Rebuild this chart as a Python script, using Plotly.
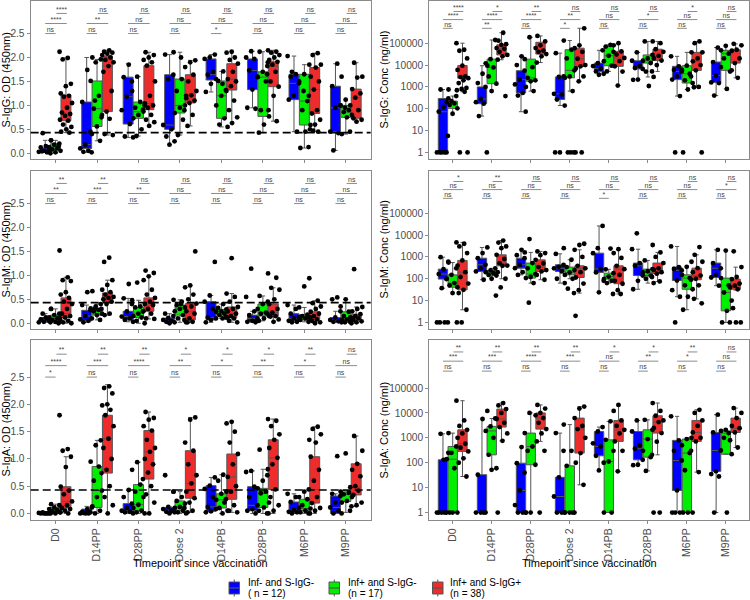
import plotly.graph_objects as go

TIMEPOINTS = ["D0", "D14PP", "D28PP", "Dose 2", "D14PB", "D28PB", "M6PP", "M9PP"]
GROUP_LABELS = ["Inf- and S-IgG-", "Inf+ and S-IgG-", "Inf+ and S-IgG+"]
GROUP_COUNTS = ["( n = 12)", "(n = 17)", "(n = 38)"]
GROUP_COLORS = ["#0000FF", "#00EE00", "#EE2C2C"]
OD_CUTOFF = 0.43

# Box summaries per timepoint: (lower whisker, Q1, median, Q3, upper whisker)
# ---------- S-IgG OD ----------
IGG_OD_NEG_BOX = [(0.02, 0.04, 0.07, 0.11, 0.27), (0.02, 0.10, 0.18, 1.07, 2.0), (0.33, 0.61, 1.18, 1.59, 1.87),
                  (0.18, 0.50, 0.59, 1.64, 2.06), (1.28, 1.53, 1.64, 1.97, 2.06), (0.95, 1.33, 1.73, 1.97, 2.13),
                  (0.45, 1.12, 1.46, 1.65, 2.03), (0.06, 0.45, 0.95, 1.40, 1.87)]
IGG_OD_POSN_BOX = [(0.0, 0.08, 0.13, 0.20, 0.27), (0.26, 0.56, 0.93, 1.51, 1.96), (0.36, 0.73, 0.87, 1.07, 1.6),
                   (0.38, 0.84, 1.0, 1.55, 2.11), (0.55, 0.73, 1.2, 1.51, 1.71), (0.43, 0.77, 1.59, 1.70, 2.12),
                   (0.11, 0.59, 1.09, 1.65, 1.85), (0.40, 0.75, 0.86, 1.0, 1.12)]
IGG_OD_POSP_BOX = [(0.43, 0.68, 0.82, 1.21, 1.99), (0.38, 0.87, 1.82, 2.03, 2.15), (0.57, 0.91, 1.04, 1.83, 2.11),
                   (0.57, 1.05, 1.21, 1.64, 1.94), (0.63, 1.32, 1.55, 1.87, 2.12), (0.67, 1.39, 1.82, 1.91, 2.15),
                   (0.45, 0.83, 1.33, 1.79, 2.09), (0.66, 0.73, 1.16, 1.34, 1.89)]
IGG_OD_NEG_PTS = [[0.42, 0.27, 0.15, 0.12, 0.08, 0.05, 0.03, 0.02, 0.04],
                  [2.0, 1.74, 1.07, 0.45, 0.18, 0.1, 0.05, 0.03, 0.02],
                  [1.85, 1.59, 1.5, 1.18, 0.9, 0.61, 0.35, 0.33],
                  [2.06, 1.64, 1.55, 0.59, 0.5, 0.35, 0.25, 0.18],
                  [2.06, 2.0, 1.97, 1.7, 1.64, 1.55, 1.45, 1.28],
                  [2.13, 2.0, 1.97, 1.73, 1.6, 1.33, 0.95, 0.93],
                  [2.03, 1.65, 1.6, 1.46, 1.2, 1.12, 0.45, 1.7],
                  [1.87, 1.4, 1.0, 0.95, 0.45, 0.42, 0.06, 1.6]]
IGG_OD_POSN_PTS = [[0.27, 0.2, 0.18, 0.13, 0.1, 0.08, 0.05, 0.02, 0.0, 0.15],
                   [1.96, 1.9, 1.51, 1.2, 0.93, 0.8, 0.56, 0.4, 0.26, 1.1],
                   [1.6, 1.3, 1.07, 0.95, 0.87, 0.8, 0.73, 0.5, 0.36, 1.0],
                   [2.11, 1.55, 1.3, 1.0, 0.95, 0.84, 0.7, 0.38, 1.2, 2.0],
                   [1.71, 1.51, 1.3, 1.2, 1.0, 0.73, 0.6, 0.55, 1.45],
                   [2.12, 1.9, 1.7, 1.59, 1.5, 0.9, 0.77, 0.6, 0.43, 1.65],
                   [1.85, 1.65, 1.5, 1.09, 0.9, 0.59, 0.45, 0.11, 0.13, 1.3],
                   [1.12, 1.0, 0.9, 0.86, 0.8, 0.75, 0.4, 0.45, 0.95]]
IGG_OD_POSP_PTS = [[2.12, 1.99, 1.96, 1.45, 1.4, 1.25, 1.2, 1.18, 1.05, 0.95, 0.85, 0.82, 0.78, 0.7, 0.68, 0.6, 0.55, 0.5, 0.45, 0.43],
                   [2.15, 2.12, 2.1, 2.08, 2.05, 2.0, 1.95, 1.9, 1.82, 1.7, 1.3, 0.87, 0.75, 0.72, 0.4, 0.38],
                   [2.11, 2.05, 2.0, 1.95, 1.9, 1.83, 1.5, 1.2, 1.04, 1.0, 0.95, 0.91, 0.8, 0.7, 0.65, 0.57],
                   [1.94, 1.9, 1.8, 1.64, 1.5, 1.3, 1.21, 1.15, 1.1, 1.05, 0.9, 0.8, 0.57],
                   [2.12, 2.1, 2.0, 1.95, 1.87, 1.7, 1.55, 1.5, 1.4, 1.32, 1.1, 0.9, 0.75, 0.63],
                   [2.15, 2.12, 2.1, 2.05, 2.0, 1.95, 1.91, 1.85, 1.82, 1.7, 1.5, 1.39, 1.2, 0.9, 0.67],
                   [2.09, 2.05, 1.85, 1.79, 1.6, 1.5, 1.33, 1.2, 0.9, 0.83, 0.7, 0.6, 0.5, 0.45, 0.47],
                   [1.89, 1.6, 1.58, 1.34, 1.25, 1.16, 1.0, 0.9, 0.73, 0.7, 0.66]]
IGG_OD_SIG_NEG_POSN = ["ns", "ns", "ns", "ns", "*", "ns", "ns", "ns"]
IGG_OD_SIG_NEG_POSP = ["****", "**", "ns", "ns", "ns", "ns", "ns", "ns"]
IGG_OD_SIG_POSN_POSP = ["****", "ns", "ns", "ns", "ns", "ns", "ns", "ns"]

# ---------- S-IgM OD ----------
IGM_OD_NEG_BOX = [(0.02, 0.03, 0.07, 0.12, 0.2), (0.02, 0.05, 0.15, 0.27, 0.38), (0.03, 0.07, 0.14, 0.25, 0.52),
                  (0.0, 0.03, 0.07, 0.11, 0.2), (0.02, 0.07, 0.12, 0.45, 0.58), (0.02, 0.03, 0.1, 0.17, 0.25),
                  (0.02, 0.05, 0.1, 0.2, 0.38), (0.02, 0.03, 0.07, 0.12, 0.25)]
IGM_OD_POSN_BOX = [(0.0, 0.03, 0.1, 0.17, 0.3), (0.07, 0.17, 0.25, 0.31, 0.4), (0.0, 0.12, 0.21, 0.33, 0.48),
                   (0.02, 0.17, 0.3, 0.38, 0.49), (0.1, 0.17, 0.24, 0.29, 0.4), (0.05, 0.15, 0.22, 0.4, 0.57),
                   (0.03, 0.07, 0.12, 0.18, 0.33), (0.02, 0.07, 0.1, 0.24, 0.5)]
IGM_OD_POSP_BOX = [(0.0, 0.12, 0.2, 0.53, 0.96), (0.17, 0.45, 0.53, 0.63, 0.9), (0.09, 0.25, 0.38, 0.53, 0.98),
                   (0.02, 0.07, 0.24, 0.41, 0.79), (0.02, 0.12, 0.2, 0.34, 0.62), (0.03, 0.14, 0.22, 0.4, 0.74),
                   (0.0, 0.08, 0.15, 0.24, 0.47), (0.0, 0.07, 0.14, 0.19, 0.34)]
IGM_OD_NEG_PTS = [[0.2, 0.3, 0.12, 0.08, 0.05, 0.03, 0.02, 0.1],
                  [0.67, 0.65, 0.38, 0.27, 0.15, 0.08, 0.05, 0.02],
                  [0.82, 0.52, 0.4, 0.25, 0.14, 0.1, 0.07, 0.03],
                  [0.2, 0.15, 0.11, 0.07, 0.05, 0.03, 0.02, 0.0],
                  [1.28, 0.58, 0.45, 0.3, 0.12, 0.1, 0.07, 0.02],
                  [1.14, 0.55, 0.25, 0.17, 0.1, 0.05, 0.03, 0.02],
                  [0.38, 0.3, 0.2, 0.12, 0.1, 0.05, 0.03, 0.02],
                  [0.54, 0.5, 0.25, 0.12, 0.07, 0.04, 0.03, 0.02]]
IGM_OD_POSN_PTS = [[0.3, 0.2, 0.17, 0.12, 0.1, 0.07, 0.05, 0.03, 0.02, 0.0],
                   [0.4, 0.35, 0.31, 0.28, 0.25, 0.2, 0.17, 0.1, 0.07, 0.3],
                   [0.85, 0.48, 0.35, 0.33, 0.25, 0.2, 0.15, 0.12, 0.05, 0.0],
                   [0.49, 0.45, 0.38, 0.33, 0.3, 0.25, 0.17, 0.1, 0.02, 0.4],
                   [0.4, 0.32, 0.29, 0.25, 0.24, 0.2, 0.17, 0.12, 0.1],
                   [0.57, 0.45, 0.4, 0.3, 0.22, 0.2, 0.15, 0.1, 0.05],
                   [0.94, 0.77, 0.33, 0.18, 0.15, 0.12, 0.1, 0.07, 0.03],
                   [0.5, 0.35, 0.24, 0.15, 0.1, 0.08, 0.07, 0.03, 0.02]]
IGM_OD_POSP_PTS = [[1.52, 0.96, 0.9, 0.88, 0.65, 0.6, 0.53, 0.45, 0.4, 0.3, 0.2, 0.15, 0.12, 0.1, 0.05, 0.02, 0.0],
                   [1.37, 1.28, 0.9, 0.8, 0.7, 0.65, 0.6, 0.55, 0.53, 0.5, 0.45, 0.4, 0.3, 0.2, 0.17],
                   [1.1, 1.05, 0.98, 0.9, 0.7, 0.6, 0.53, 0.45, 0.4, 0.38, 0.3, 0.25, 0.2, 0.1, 0.09],
                   [1.5, 0.79, 0.75, 0.6, 0.5, 0.41, 0.35, 0.25, 0.2, 0.1, 0.07, 0.03, 0.02],
                   [1.36, 0.62, 0.55, 0.45, 0.34, 0.3, 0.25, 0.2, 0.15, 0.12, 0.1, 0.05, 0.02],
                   [1.04, 0.95, 0.74, 0.7, 0.5, 0.4, 0.3, 0.22, 0.2, 0.15, 0.14, 0.08, 0.03],
                   [0.47, 0.42, 0.35, 0.3, 0.24, 0.2, 0.15, 0.12, 0.08, 0.05, 0.02, 0.0],
                   [1.13, 0.34, 0.3, 0.25, 0.19, 0.15, 0.12, 0.1, 0.07, 0.04, 0.02, 0.0]]
IGM_OD_SIG_NEG_POSN = ["ns", "ns", "ns", "ns", "ns", "ns", "ns", "ns"]
IGM_OD_SIG_NEG_POSP = ["**", "***", "**", "ns", "ns", "ns", "ns", "ns"]
IGM_OD_SIG_POSN_POSP = ["**", "**", "ns", "ns", "ns", "ns", "ns", "ns"]

# ---------- S-IgA OD ----------
IGA_OD_NEG_BOX = [(0.0, 0.0, 0.0, 0.01, 0.02), (0.0, 0.0, 0.02, 0.08, 0.13), (0.0, 0.02, 0.05, 0.18, 0.43),
                  (0.0, 0.02, 0.06, 0.11, 0.12), (0.02, 0.04, 0.12, 0.51, 0.66), (0.0, 0.05, 0.15, 0.49, 0.78),
                  (0.0, 0.02, 0.06, 0.21, 0.36), (0.0, 0.0, 0.11, 0.32, 0.36)]
IGA_OD_POSN_BOX = [(0.0, 0.02, 0.06, 0.11, 0.17), (0.0, 0.11, 0.42, 0.86, 1.34), (0.0, 0.05, 0.16, 0.53, 0.94),
                   (0.0, 0.05, 0.12, 0.23, 0.4), (0.0, 0.1, 0.25, 0.36, 0.71), (0.0, 0.11, 0.37, 0.46, 0.81),
                   (0.0, 0.05, 0.09, 0.26, 0.4), (0.02, 0.22, 0.35, 0.42, 0.42)]
IGA_OD_POSP_BOX = [(0.0, 0.1, 0.22, 0.49, 1.04), (0.0, 0.74, 1.37, 1.8, 2.36), (0.0, 0.63, 1.13, 1.52, 1.86),
                   (0.02, 0.28, 0.55, 1.15, 1.76), (0.02, 0.26, 0.67, 1.09, 1.68), (0.0, 0.44, 1.02, 1.35, 1.73),
                   (0.0, 0.19, 0.44, 1.04, 1.59), (0.13, 0.34, 0.48, 0.91, 1.42)]
IGA_OD_NEG_PTS = [[0.02, 0.01, 0.0, 0.0, 0.0, 0.0, 0.01, 0.0],
                  [0.13, 0.08, 0.03, 0.02, 0.0, 0.0, 0.0, 0.01],
                  [0.43, 0.3, 0.18, 0.1, 0.05, 0.03, 0.02, 0.0],
                  [0.7, 0.4, 0.12, 0.08, 0.05, 0.03, 0.02, 0.0],
                  [0.66, 0.51, 0.45, 0.3, 0.12, 0.08, 0.04, 0.02],
                  [0.78, 0.76, 0.49, 0.3, 0.15, 0.08, 0.05, 0.0],
                  [0.36, 0.3, 0.21, 0.1, 0.06, 0.03, 0.02, 0.0],
                  [1.05, 0.36, 0.32, 0.2, 0.11, 0.05, 0.0, 0.0]]
IGA_OD_POSN_PTS = [[0.17, 0.15, 0.11, 0.08, 0.06, 0.04, 0.02, 0.0, 0.0],
                   [1.34, 1.25, 0.95, 0.86, 0.6, 0.42, 0.3, 0.11, 0.05, 0.0],
                   [0.94, 0.8, 0.53, 0.4, 0.3, 0.16, 0.1, 0.05, 0.02, 0.0],
                   [0.4, 0.3, 0.23, 0.18, 0.12, 0.1, 0.05, 0.02, 0.0],
                   [0.71, 0.6, 0.4, 0.36, 0.25, 0.2, 0.1, 0.05, 0.0],
                   [1.17, 0.81, 0.6, 0.46, 0.4, 0.37, 0.2, 0.11, 0.05, 0.0],
                   [1.35, 0.4, 0.3, 0.26, 0.15, 0.09, 0.05, 0.02, 0.0],
                   [1.1, 0.4, 0.38, 0.35, 0.3, 0.23, 0.2, 0.05]]
IGA_OD_POSP_PTS = [[1.8, 1.18, 1.15, 1.04, 0.85, 0.49, 0.42, 0.35, 0.22, 0.15, 0.1, 0.08, 0.05, 0.02, 0.0],
                   [2.33, 2.3, 2.2, 2.0, 1.98, 1.9, 1.8, 1.6, 1.37, 1.2, 1.0, 0.8, 0.74, 0.5, 0.3, 0.15, 0.0],
                   [1.86, 1.75, 1.72, 1.6, 1.52, 1.35, 1.2, 1.13, 1.0, 0.9, 0.75, 0.63, 0.5, 0.35, 0.2, 0.0],
                   [1.76, 1.72, 1.3, 1.15, 0.9, 0.7, 0.55, 0.4, 0.28, 0.2, 0.1, 0.05, 0.02],
                   [1.68, 1.65, 1.5, 1.3, 1.09, 0.9, 0.67, 0.5, 0.4, 0.26, 0.15, 0.05, 0.02],
                   [1.73, 1.7, 1.6, 1.45, 1.35, 1.2, 1.02, 0.9, 0.7, 0.44, 0.3, 0.15, 0.05, 0.0],
                   [1.59, 1.55, 1.45, 1.3, 1.04, 0.8, 0.6, 0.44, 0.3, 0.19, 0.1, 0.05, 0.0],
                   [1.42, 1.15, 0.91, 0.8, 0.68, 0.5, 0.48, 0.42, 0.34, 0.2, 0.15, 0.13]]
IGA_OD_SIG_NEG_POSN = ["*", "ns", "ns", "ns", "ns", "ns", "ns", "ns"]
IGA_OD_SIG_NEG_POSP = ["****", "***", "****", "**", "*", "**", "*", "ns"]
IGA_OD_SIG_POSN_POSP = ["**", "**", "**", "*", "*", "*", "**", "ns"]

# ---------- S-IgG concentration (ng/ml) ----------
IGG_CONC_NEG_BOX = [(1, 1, 73, 295, 760), (46, 170, 280, 1000, 9300), (73, 530, 2150, 5500, 25000),
                    (140, 265, 480, 2850, 35000), (3600, 5100, 6800, 12300, 47000), (2150, 6600, 7300, 15700, 38000),
                    (380, 2150, 5100, 8700, 25000), (400, 1600, 3300, 13700, 63000)]
IGG_CONC_POSN_BOX = [(59, 104, 175, 224, 380), (640, 1400, 7800, 18600, 140000), (640, 1800, 2600, 18600, 187000),
                     (640, 2600, 5700, 50000, 132000), (5100, 9300, 26600, 70000, 84000), (2850, 12300, 15700, 29000, 120000),
                     (760, 1500, 4000, 9300, 38000), (810, 5700, 33000, 47000, 76000)]
IGG_CONC_POSP_BOX = [(600, 2500, 3000, 9500, 100000), (17500, 29000, 55000, 84000, 300000), (13000, 31600, 46000, 110000, 215000),
                     (1800, 8700, 19400, 59000, 480000), (1150, 8700, 21000, 42000, 100000), (5100, 16000, 26000, 53000, 120000),
                     (960, 5700, 14700, 38000, 120000), (2600, 12300, 45000, 50000, 93000)]
IGG_CONC_NEG_PTS = [[760, 300, 120, 73, 1, 1, 1, 1, 1],
                    [9300, 4000, 1500, 1000, 280, 200, 170, 46],
                    [25000, 10000, 5500, 2150, 1300, 530, 400, 73],
                    [35000, 3000, 2850, 480, 450, 265, 140, 1, 1],
                    [47000, 12300, 9000, 6800, 5100, 4000, 3600],
                    [38000, 15700, 9000, 7300, 6600, 2150, 2100],
                    [25000, 8700, 6000, 5100, 3000, 2150, 380, 1],
                    [63000, 13700, 8000, 3300, 1600, 1500, 400]]
IGG_CONC_POSN_PTS = [[760, 380, 224, 200, 175, 150, 104, 59, 5.7],
                     [140000, 18600, 12000, 7800, 3000, 1400, 640, 1],
                     [187000, 18600, 8000, 2600, 2000, 1800, 1000, 640],
                     [132000, 50000, 20000, 5700, 3000, 2600, 640, 1, 1, 1],
                     [84000, 70000, 40000, 26600, 15000, 9300, 5100],
                     [120000, 29000, 20000, 15700, 12300, 5000, 2850, 1100],
                     [38000, 9300, 6000, 4000, 2000, 1500, 760, 1],
                     [76000, 47000, 33000, 20000, 5700, 810]]
IGG_CONC_POSP_PTS = [[100000, 50000, 45000, 20000, 9300, 6000, 3000, 2800, 2500, 2000, 1500, 900, 800, 700, 600, 1, 1],
                     [300000, 130000, 90000, 84000, 60000, 55000, 40000, 29000, 25000, 17500, 380],
                     [215000, 120000, 80000, 60000, 46000, 40000, 31600, 25000, 13000],
                     [480000, 80000, 59000, 40000, 19400, 10000, 8700, 7000, 3000, 1800, 1, 1],
                     [100000, 80000, 42000, 30000, 21000, 15000, 8700, 5000, 1150],
                     [120000, 100000, 53000, 40000, 26000, 20000, 16000, 10000, 5100],
                     [120000, 100000, 38000, 20000, 14700, 10000, 5700, 3000, 1000, 960, 1],
                     [93000, 80000, 50000, 45000, 20000, 12300, 5000, 2600]]
IGG_CONC_SIG_NEG_POSN = ["ns", "**", "ns", "*", "ns", "ns", "ns", "ns"]
IGG_CONC_SIG_NEG_POSP = ["****", "****", "****", "**", "ns", "*", "ns", "ns"]
IGG_CONC_SIG_POSN_POSP = ["****", "*", "**", "ns", "ns", "ns", "*", "ns"]

# ---------- S-IgM concentration (ng/ml) ----------
IGM_CONC_NEG_BOX = [(37, 96, 163, 275, 970), (90, 215, 435, 870, 2700), (150, 305, 435, 870, 2100),
                    (63, 215, 300, 435, 1380), (24, 194, 283, 1480, 26000), (33, 140, 390, 520, 2250),
                    (15, 83, 240, 340, 3000), (48, 114, 300, 520, 2100)]
IGM_CONC_POSN_BOX = [(22, 41, 63, 151, 550), (100, 140, 180, 240, 300), (63, 107, 163, 520, 1600),
                     (100, 150, 194, 340, 740), (63, 96, 126, 180, 270), (63, 140, 194, 275, 690),
                     (3.8, 33, 107, 151, 350), (1, 3.4, 23.5, 107, 1950)]
IGM_CONC_POSP_BOX = [(3.8, 31, 200, 690, 4600), (100, 390, 515, 1240, 5600), (90, 215, 340, 730, 1780),
                     (22, 114, 300, 390, 2100), (20, 59, 275, 390, 2250), (75, 170, 257, 520, 1600),
                     (12, 90, 140, 305, 1240), (30, 33, 48, 96, 340)]
IGM_CONC_NEG_PTS = [[970, 600, 275, 163, 96, 37, 1, 1, 1],
                    [2700, 1500, 870, 435, 300, 215, 90],
                    [2100, 1200, 870, 435, 305, 200, 150],
                    [1380, 435, 350, 300, 215, 100, 63],
                    [26000, 2500, 1480, 283, 194, 80, 24],
                    [12000, 2250, 520, 390, 140, 80, 33],
                    [3000, 340, 280, 240, 83, 30, 15, 1],
                    [2100, 520, 300, 150, 114, 48]]
IGM_CONC_POSN_PTS = [[550, 300, 151, 100, 63, 50, 41, 22, 1],
                     [300, 240, 200, 180, 150, 140, 100],
                     [6500, 1600, 520, 300, 163, 120, 107, 63, 8],
                     [2500, 740, 340, 250, 194, 150, 100, 35, 2],
                     [2400, 270, 180, 126, 96, 80, 63],
                     [690, 275, 220, 194, 140, 100, 63],
                     [600, 350, 151, 107, 50, 33, 15, 3.8],
                     [1950, 107, 50, 23.5, 10, 3.4, 1, 1]]
IGM_CONC_POSP_PTS = [[4600, 4000, 3000, 1500, 690, 400, 200, 120, 60, 31, 22, 3.8, 1, 1],
                     [5600, 4500, 3000, 2500, 1240, 800, 515, 400, 390, 200, 100, 40, 17],
                     [1780, 1500, 1200, 730, 500, 340, 250, 215, 150, 90],
                     [4000, 3500, 2100, 1000, 390, 300, 200, 114, 60, 30, 22],
                     [2250, 1500, 900, 390, 275, 150, 80, 59, 30, 20, 20],
                     [3500, 1600, 1000, 520, 300, 257, 200, 170, 120, 75],
                     [2800, 1240, 600, 305, 200, 140, 100, 90, 50, 12, 7.5],
                     [1800, 340, 120, 96, 60, 48, 40, 33, 4.5, 1, 1]]
IGM_CONC_SIG_NEG_POSN = ["ns", "ns", "ns", "ns", "*", "ns", "ns", "ns"]
IGM_CONC_SIG_NEG_POSP = ["ns", "ns", "ns", "ns", "ns", "ns", "ns", "*"]
IGM_CONC_SIG_POSN_POSP = ["*", "**", "ns", "ns", "ns", "ns", "ns", "ns"]

# ---------- S-IgA concentration (ng/ml) ----------
IGA_CONC_NEG_BOX = [(1, 1, 1, 131, 1450), (1, 1, 1, 33, 5700), (1, 1, 7.7, 96, 425),
                    (1, 1, 4.4, 26, 1550), (49, 190, 450, 1800, 2700), (83, 131, 365, 1800, 5000),
                    (1, 7.7, 123, 790, 7300), (1, 45, 310, 1650, 8500)]
IGA_CONC_POSN_BOX = [(1, 1, 139, 450, 1550), (52, 208, 1900, 2880, 6000), (1, 83, 450, 1550, 10000),
                     (1, 1, 1, 75, 3400), (1, 1, 112, 830, 4600), (47, 168, 890, 2100, 5300),
                     (1, 1, 245, 890, 1000), (220, 220, 1550, 1900, 2100)]
IGA_CONC_POSP_BOX = [(28, 285, 580, 2100, 31000), (760, 2700, 5700, 14300, 25000), (720, 2240, 6200, 10000, 21000),
                     (13, 245, 2240, 6200, 18000), (45, 720, 2100, 5000, 21000), (208, 1550, 4300, 7700, 25000),
                     (42, 720, 1650, 5000, 13400), (410, 1650, 2450, 6200, 15700)]
IGA_CONC_NEG_PTS = [[1450, 250, 131, 1, 1, 1, 1, 1],
                    [12000, 5700, 33, 1, 1, 1, 1],
                    [425, 96, 40, 7.7, 2, 1, 1, 1],
                    [1550, 300, 26, 4.4, 1, 1, 1],
                    [2700, 1800, 600, 450, 190, 100, 49],
                    [5000, 1800, 500, 365, 131, 83, 80],
                    [7300, 790, 300, 123, 7.7, 1, 1, 1],
                    [8500, 1650, 310, 45, 35, 28, 1]]
IGA_CONC_POSN_PTS = [[1550, 450, 250, 139, 60, 1, 1, 1],
                     [6000, 2880, 1900, 1000, 208, 60, 52],
                     [10000, 1550, 450, 300, 83, 1, 1],
                     [3400, 300, 75, 1, 1, 1, 1],
                     [4600, 830, 300, 112, 1, 1],
                     [5300, 2100, 890, 300, 168, 47, 1],
                     [1000, 890, 500, 245, 50, 1, 1, 1],
                     [2100, 1900, 1550, 1000, 220, 1]]
IGA_CONC_POSP_PTS = [[31000, 5000, 3000, 2100, 1500, 1000, 580, 400, 285, 150, 100, 28],
                     [25000, 20000, 14300, 10000, 5700, 4000, 2700, 1500, 760, 1],
                     [21000, 15000, 10000, 8000, 6200, 4000, 2240, 1500, 720, 300, 1],
                     [18000, 15000, 6200, 3000, 2240, 1000, 245, 100, 13],
                     [21000, 12000, 5000, 3000, 2100, 1500, 720, 300, 45],
                     [25000, 12000, 7700, 5000, 4300, 2500, 1550, 700, 208, 1],
                     [13400, 10000, 5000, 3000, 1650, 1000, 720, 300, 42],
                     [15700, 10000, 6200, 3000, 2450, 1650, 800, 410]]
IGA_CONC_SIG_NEG_POSN = ["ns", "ns", "ns", "ns", "ns", "ns", "ns", "ns"]
IGA_CONC_SIG_NEG_POSP = ["***", "***", "****", "***", "ns", "**", "*", "ns"]
IGA_CONC_SIG_POSN_POSP = ["**", "**", "**", "**", "*", "*", "**", "ns"]

OD_TICKS = [0.0, 0.5, 1.0, 1.5, 2.0, 2.5]
CONC_TICKS = [1, 10, 100, 1000, 10000, 100000]

PANELS = [
    dict(title="S-IgG: OD (450nm)", log=False,
         boxes=[IGG_OD_NEG_BOX, IGG_OD_POSN_BOX, IGG_OD_POSP_BOX],
         pts=[IGG_OD_NEG_PTS, IGG_OD_POSN_PTS, IGG_OD_POSP_PTS],
         sig=[IGG_OD_SIG_NEG_POSN, IGG_OD_SIG_NEG_POSP, IGG_OD_SIG_POSN_POSP]),
    dict(title="S-IgM: OD (450nm)", log=False,
         boxes=[IGM_OD_NEG_BOX, IGM_OD_POSN_BOX, IGM_OD_POSP_BOX],
         pts=[IGM_OD_NEG_PTS, IGM_OD_POSN_PTS, IGM_OD_POSP_PTS],
         sig=[IGM_OD_SIG_NEG_POSN, IGM_OD_SIG_NEG_POSP, IGM_OD_SIG_POSN_POSP]),
    dict(title="S-IgA: OD (450nm)", log=False,
         boxes=[IGA_OD_NEG_BOX, IGA_OD_POSN_BOX, IGA_OD_POSP_BOX],
         pts=[IGA_OD_NEG_PTS, IGA_OD_POSN_PTS, IGA_OD_POSP_PTS],
         sig=[IGA_OD_SIG_NEG_POSN, IGA_OD_SIG_NEG_POSP, IGA_OD_SIG_POSN_POSP]),
    dict(title="S-IgG: Conc (ng/ml)", log=True,
         boxes=[IGG_CONC_NEG_BOX, IGG_CONC_POSN_BOX, IGG_CONC_POSP_BOX],
         pts=[IGG_CONC_NEG_PTS, IGG_CONC_POSN_PTS, IGG_CONC_POSP_PTS],
         sig=[IGG_CONC_SIG_NEG_POSN, IGG_CONC_SIG_NEG_POSP, IGG_CONC_SIG_POSN_POSP]),
    dict(title="S-IgM: Conc (ng/ml)", log=True,
         boxes=[IGM_CONC_NEG_BOX, IGM_CONC_POSN_BOX, IGM_CONC_POSP_BOX],
         pts=[IGM_CONC_NEG_PTS, IGM_CONC_POSN_PTS, IGM_CONC_POSP_PTS],
         sig=[IGM_CONC_SIG_NEG_POSN, IGM_CONC_SIG_NEG_POSP, IGM_CONC_SIG_POSN_POSP]),
    dict(title="S-IgA: Conc (ng/ml)", log=True,
         boxes=[IGA_CONC_NEG_BOX, IGA_CONC_POSN_BOX, IGA_CONC_POSP_BOX],
         pts=[IGA_CONC_NEG_PTS, IGA_CONC_POSN_PTS, IGA_CONC_POSP_PTS],
         sig=[IGA_CONC_SIG_NEG_POSN, IGA_CONC_SIG_NEG_POSP, IGA_CONC_SIG_POSN_POSP]),
]

# ---------------- layout geometry (pixels) ----------------
W, H = 750, 600
X_DOMAINS = {"L": (30.7, 370.7), "R": (429.3, 749.3)}
Y_ROWS = [(1, 159), (171, 329), (340, 520)]
PANEL_POS = [("L", 0), ("L", 1), ("L", 2), ("R", 0), ("R", 1), ("R", 2)]
OFFSETS = [-0.25, 0.0, 0.25]
BOX_W = 0.24
FONT = "Liberation Sans, Arial, Helvetica, sans-serif"
FRAME = "#8a8a8a"
TICKC = "#4d4d4d"
BOXLINE = "#555555"
LEGEND_ICON_X = [229.0, 329.0, 432.5]
LEGEND_TEXT_X = [245.7, 345.7, 448.3]


def jitter(k):
    return (((k * 0.6180339887 + 0.31) % 1.0) - 0.5) * 0.32


def px2x(v):
    return v / W


def px2y(v):
    return 1 - v / H


fig = go.Figure()
layout = dict(width=W, height=H, margin=dict(l=0, r=0, t=0, b=0, autoexpand=False),
              paper_bgcolor="white", plot_bgcolor="white",
              font=dict(family=FONT, size=11, color="black"),
              showlegend=False, shapes=[], annotations=[])

for p, panel in enumerate(PANELS):
    idx = p + 1
    sfx = "" if idx == 1 else str(idx)
    xa, ya = "x" + sfx, "y" + sfx
    side, row = PANEL_POS[p]
    x0, x1 = X_DOMAINS[side]
    ytop, ybot = Y_ROWS[row]
    bottom_row = row == 2
    is_log = panel["log"]

    layout["xaxis" + sfx] = dict(
        domain=[px2x(x0), px2x(x1)], anchor=ya, range=[-0.6, 7.6], automargin=False,
        tickmode="array", tickvals=list(range(len(TIMEPOINTS))), ticktext=TIMEPOINTS,
        showticklabels=bottom_row, tickangle=-90, tickfont=dict(size=10.5, color=TICKC),
        ticks="outside", ticklen=3, tickcolor=FRAME, showgrid=False, zeroline=False,
        showline=True, mirror=True, linecolor=FRAME, linewidth=1.2)
    if is_log:
        yax = dict(type="log", range=[-0.3, 6.93], tickvals=CONC_TICKS,
                   ticktext=[str(v) for v in CONC_TICKS])
    else:
        yax = dict(type="linear", range=[-0.12, 3.18], tickvals=OD_TICKS,
                   ticktext=["%.1f" % v for v in OD_TICKS])
    yax.update(domain=[px2y(ybot), px2y(ytop)], anchor=xa, tickmode="array", automargin=False,
               tickfont=dict(size=10.2, color=TICKC), ticks="outside", ticklen=3, tickcolor=FRAME,
               showgrid=False, zeroline=False, showline=True, mirror=True, linecolor=FRAME, linewidth=1.2)
    layout["yaxis" + sfx] = yax

    # boxes
    for g in range(3):
        stats = panel["boxes"][g]
        fig.add_trace(go.Box(
            x=[i + OFFSETS[g] for i in range(len(TIMEPOINTS))],
            lowerfence=[s[0] for s in stats], q1=[s[1] for s in stats], median=[s[2] for s in stats],
            q3=[s[3] for s in stats], upperfence=[s[4] for s in stats],
            width=BOX_W, whiskerwidth=0.45, boxpoints=False,
            fillcolor=GROUP_COLORS[g], line=dict(color=BOXLINE, width=1),
            name=GROUP_LABELS[g], showlegend=False,
            xaxis=xa, yaxis=ya, hoverinfo="skip"))

    # jittered points
    pxs, pys = [], []
    for g in range(3):
        for i, vals in enumerate(panel["pts"][g]):
            for k, v in enumerate(vals):
                pxs.append(i + OFFSETS[g] + jitter(k + 3 * g + i))
                pys.append(v)
    fig.add_trace(go.Scatter(x=pxs, y=pys, mode="markers", marker=dict(color="black", size=4.8),
                             showlegend=False, xaxis=xa, yaxis=ya, hoverinfo="skip"))

    # cutoff line on OD panels
    if not is_log:
        layout["shapes"].append(dict(type="line", xref=xa + " domain", yref=ya, x0=0, x1=1,
                                     y0=OD_CUTOFF, y1=OD_CUTOFF,
                                     line=dict(color="black", width=1.6, dash="8px,4px")))

    # significance brackets
    levels = [5.68, 6.08, 6.45] if is_log else [2.5, 2.71, 2.92]
    spans = [(-0.25, 0.0), (-0.25, 0.27), (0.02, 0.27)]
    lx, ly, tx, ty, tt = [], [], [], [], []
    for s in range(3):
        yv = 10 ** levels[s] if is_log else levels[s]
        for i in range(len(TIMEPOINTS)):
            a, b = spans[s]
            lx += [i + a, i + b, None]
            ly += [yv, yv, None]
            tx.append(i + (a + b) / 2)
            ty.append(yv)
            tt.append(panel["sig"][s][i])
    fig.add_trace(go.Scatter(x=lx, y=ly, mode="lines", line=dict(color="#8c8c8c", width=1),
                             showlegend=False, xaxis=xa, yaxis=ya, hoverinfo="skip"))
    fig.add_trace(go.Scatter(x=tx, y=ty, mode="text", text=tt, textposition="top center",
                             textfont=dict(size=7, color="#444444", family=FONT),
                             showlegend=False, xaxis=xa, yaxis=ya, hoverinfo="skip"))

    # y title
    cx = 5.5 if side == "L" else 383.5
    layout["annotations"].append(dict(text=panel["title"], xref="paper", yref="paper",
                                      x=px2x(cx), y=px2y((ytop + ybot) / 2), textangle=-90,
                                      showarrow=False, font=dict(size=11, color="black"),
                                      xanchor="center", yanchor="middle"))
    if bottom_row:
        layout["annotations"].append(dict(text="Timepoint since vaccination", xref="paper", yref="paper",
                                          x=px2x((x0 + x1) / 2), y=px2y(563), showarrow=False,
                                          font=dict(size=11, color="black"),
                                          xanchor="center", yanchor="middle"))

# legend drawn as boxplot keys + two-line labels
for g in range(3):
    ix0 = LEGEND_ICON_X[g]
    ix1 = ix0 + 10.5
    icx = (ix0 + ix1) / 2
    layout["shapes"].append(dict(type="line", xref="paper", yref="paper",
                                 x0=px2x(icx), x1=px2x(icx), y0=px2y(579.5), y1=px2y(596.5),
                                 line=dict(color=BOXLINE, width=1)))
    layout["shapes"].append(dict(type="rect", xref="paper", yref="paper",
                                 x0=px2x(ix0), x1=px2x(ix1), y0=px2y(582), y1=px2y(594),
                                 fillcolor=GROUP_COLORS[g], line=dict(color=BOXLINE, width=1)))
    layout["shapes"].append(dict(type="line", xref="paper", yref="paper",
                                 x0=px2x(ix0), x1=px2x(ix1), y0=px2y(588), y1=px2y(588),
                                 line=dict(color=BOXLINE, width=1.2)))
    layout["annotations"].append(dict(text=GROUP_LABELS[g], xref="paper", yref="paper",
                                      x=px2x(LEGEND_TEXT_X[g]), y=px2y(582.5), showarrow=False,
                                      xanchor="left", yanchor="middle", font=dict(size=10, color="black")))
    layout["annotations"].append(dict(text=GROUP_COUNTS[g], xref="paper", yref="paper",
                                      x=px2x(LEGEND_TEXT_X[g]), y=px2y(593.5), showarrow=False,
                                      xanchor="left", yanchor="middle", font=dict(size=10, color="black")))

fig.update_layout(**layout)
fig.write_html("out.html", config={"displayModeBar": False},
               post_script="document.body.style.margin='0';document.body.style.overflow='hidden';")
